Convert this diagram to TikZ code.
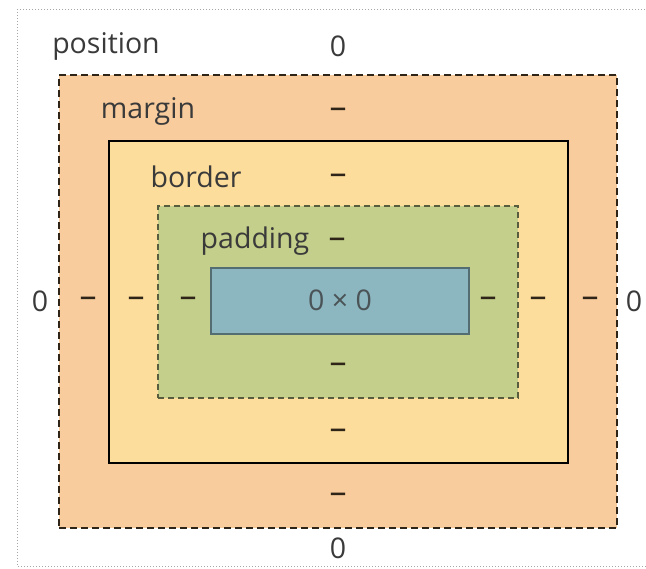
\documentclass[tikz,border=0pt]{standalone}
\usepackage{fontspec}
\setmainfont{Open Sans}
\definecolor{marginc}{HTML}{F9CC9D}
\definecolor{borderc}{HTML}{FDDD9B}
\definecolor{paddingc}{HTML}{C3CF8A}
\definecolor{contentc}{HTML}{8CB6C0}
\definecolor{txt}{HTML}{3A3A3A}
\definecolor{dashc}{HTML}{2E2418}
\begin{document}
\begin{tikzpicture}[x=1pt,y=-1pt,
  lbl/.style={inner sep=0pt, text=txt, font=\fontsize{28.5}{32}\selectfont},
  dsh/.style={inner sep=0pt, text=dashc, font=\fontsize{34}{38}\selectfont},
  marginbox/.style={draw=dashc, fill=marginc, line width=1.8pt, dash pattern=on 7pt off 4pt, minimum width=558pt, minimum height=453pt, inner sep=0pt},
  borderbox/.style={draw=black, fill=borderc, line width=2pt, minimum width=459pt, minimum height=322pt, inner sep=0pt},
  paddingbox/.style={draw=black!55!paddingc, fill=paddingc, line width=1.4pt, dash pattern=on 6pt off 4pt, minimum width=360pt, minimum height=192pt, inner sep=0pt},
  contentbox/.style={draw=contentc!60!black, fill=contentc, line width=1.4pt, minimum width=258pt, minimum height=66pt, inner sep=0pt},
  posline/.style={draw=black!35, line width=1pt, dotted}
]
\useasboundingbox (0,0) rectangle (646,569);
\fill[white] (0,0) rectangle (646,569);
% position box (dotted, runs past right edge)
\coordinate (pTR) at (660,10);
\coordinate (pTL) at (17,10);
\coordinate (pBL) at (17,566);
\coordinate (pBR) at (660,566);
\draw[posline] (pTR) -- (pTL) -- (pBL) -- (pBR);
% boxes
\node[marginbox] (margin) at (338,301.5) {};
\node[borderbox] (border) at (338.5,302) {};
\node[paddingbox] (padding) at (338,302) {};
\node[contentbox] (content) at (340,301) {};
% labels
\node[lbl] (lpos) at (106,46) {position};
\node[lbl] (ptop) at (338,46) {0};
\node[lbl] (lmar) at (148,111) {margin};
\node[dsh] (mtop) at (338,113) {–};
\node[lbl] (lbor) at (196,177) {border};
\node[dsh] (btop) at (338,179) {–};
\node[lbl] (lpad) at (255,241) {padding};
\node[dsh] (padtop) at (337,243) {–};
\node[lbl, text=txt!80!contentc] (csize) at (340,300) {0 × 0};
\node[lbl] (pleft) at (40,301) {0};
\node[dsh] (mleft) at (88,302) {–};
\node[dsh] (bleft) at (136,302) {–};
\node[dsh] (padleft) at (188,302) {–};
\node[dsh] (padright) at (488,302) {–};
\node[dsh] (bright) at (538,302) {–};
\node[dsh] (mright) at (590,302) {–};
\node[lbl] (pright) at (634,301) {0};
\node[dsh] (padbot) at (338,368) {–};
\node[dsh] (bbot) at (338,434) {–};
\node[dsh] (mbot) at (338,498) {–};
\node[lbl] (pbot) at (338,548) {0};
\end{tikzpicture}
\end{document}
